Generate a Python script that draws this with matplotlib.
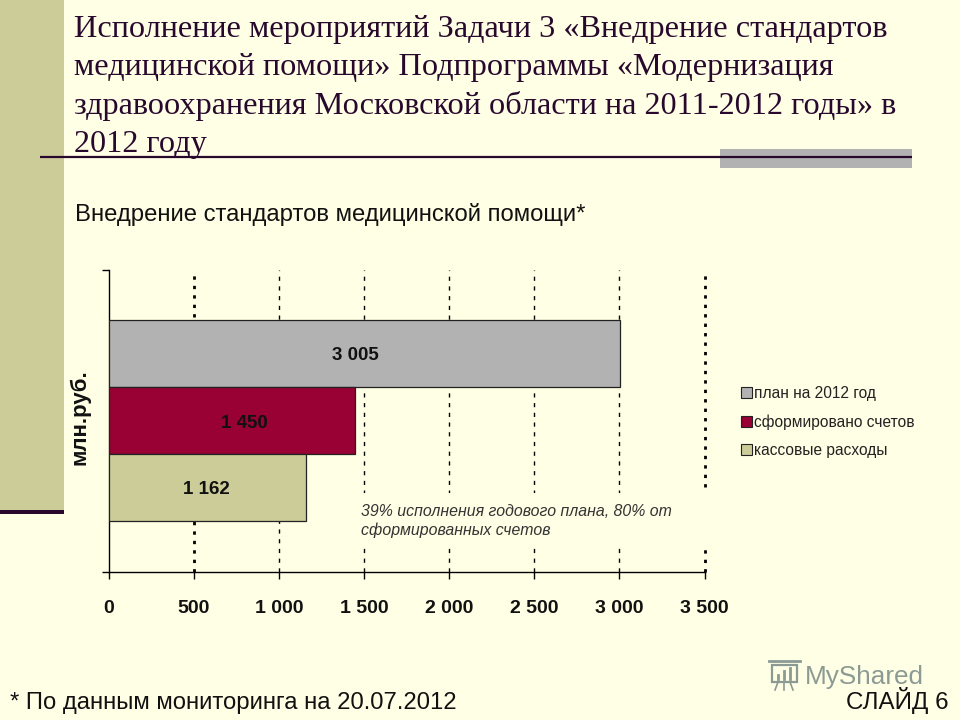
# slide with horizontal bar chart, plan vs invoices vs cash spending

import matplotlib
matplotlib.use('Agg')
import matplotlib.pyplot as plt
from matplotlib.patches import Rectangle

# chart data
categories = ['план на 2012 год', 'сформировано счетов', 'кассовые расходы']
values = [3005, 1450, 1162]
value_labels = ['3 005', '1 450', '1 162']
x_ticks = [0, 500, 1000, 1500, 2000, 2500, 3000, 3500]
x_tick_labels = ['0', '500', '1 000', '1 500', '2 000', '2 500', '3 000', '3 500']
heavy_grid = [500, 3500]

title_lines = [
    'Исполнение мероприятий Задачи 3 «Внедрение стандартов',
    'медицинской помощи» Подпрограммы «Модернизация',
    'здравоохранения Московской области на 2011-2012 годы» в',
    '2012 году',
]
subtitle = 'Внедрение стандартов медицинской помощи*'
note = '39% исполнения годового плана, 80% от\nсформированных счетов'
footer = '* По данным мониторинга на 20.07.2012'
slide_no = 'СЛАЙД 6'

# colors
bg_color = '#FFFFE5'
olive = '#CCCC99'
dark = '#29082E'
bar_colors = ['#B2B2B2', '#990033', '#CCCC99']

plt.rcParams['font.family'] = 'Liberation Sans'

fig = plt.figure(figsize=(9.6, 7.2), dpi=100, facecolor=bg_color)

# background layer in pixel coordinates
bg = fig.add_axes([0, 0, 1, 1], zorder=0)
bg.set_xlim(0, 960)
bg.set_ylim(720, 0)
bg.axis('off')

bg.add_patch(Rectangle((0, 0), 64, 510, color=olive, lw=0))
bg.add_patch(Rectangle((0, 510), 64, 4, color=dark, lw=0))
bg.add_patch(Rectangle((720, 149), 192, 19, color='#B2B2B2', lw=0))
bg.plot([40, 912], [157, 157], color=dark, lw=1.6, solid_capstyle='butt')

title_y = [37, 75, 114, 152]
for line, y in zip(title_lines, title_y):
    bg.text(74, y, line, family='Liberation Serif', fontsize=23.2, color=dark, va='baseline')

bg.text(75, 221, subtitle, fontsize=17.2, color='#111111', va='baseline')
bg.text(10, 709, footer, fontsize=17.2, color='#111111', va='baseline')
bg.text(949, 709, slide_no, fontsize=17.4, color='#111111', va='baseline', ha='right')
bg.text(79.5, 417, 'млн.руб.', fontsize=16, fontweight='bold', rotation=90,
        ha='center', va='center', color='#111111')

# watermark with small screen icon
wm = '#8C9A94'
bg.add_patch(Rectangle((772, 665), 25, 17, fill=False, ec=wm, lw=1.6))
bg.plot([769, 800], [661, 661], color=wm, lw=2)
bg.plot([778, 778], [679, 675], color=wm, lw=2)
bg.plot([784, 784], [679, 671], color=wm, lw=2)
bg.plot([790, 790], [679, 668], color=wm, lw=2)
bg.plot([778, 775], [682, 690], color=wm, lw=1.2)
bg.plot([784, 784], [682, 690], color=wm, lw=1.2)
bg.plot([790, 793], [682, 690], color=wm, lw=1.2)
bg.text(805, 684, 'MyShared', fontsize=18.8, color=wm, va='baseline')

# chart axes
ax = fig.add_axes([108.5 / 960, (720 - 572) / 720, 596 / 960, 302 / 720], zorder=1)
ax.patch.set_alpha(0)
positions = [2, 1, 0]
bars = ax.barh(positions, values, height=1.0, color=bar_colors, edgecolor='#222222',
               linewidth=0.9, zorder=3)

ax.set_xlim(0, 3500)
ax.set_ylim(-1.26, 3.24)

for t in x_ticks[1:]:
    if t in heavy_grid:
        ax.vlines(t, -1.26, 3.24, color='black', lw=2, linestyles=(0, (1.2, 2.2)), zorder=1,
                  clip_on=False)
    else:
        ax.vlines(t, -1.26, 3.24, color='black', lw=1, linestyles=(0, (3, 4)), zorder=1)

for spine in ['top', 'right']:
    ax.spines[spine].set_visible(False)
ax.spines['left'].set_linewidth(1)
ax.spines['bottom'].set_linewidth(1)

ax.set_xticks(x_ticks)
ax.set_xticklabels(x_tick_labels, fontsize=14, fontweight='bold', color='#111111')
ax.set_yticks([-1.26, 3.24])
ax.set_yticklabels([])
ax.tick_params(axis='x', length=5, width=1, pad=15)
ax.tick_params(axis='y', length=5, width=1)

# value labels, placed by hand like in the slide
label_x = [1450, 800, 575]
label_dy = [-0.04, -0.05, -0.03]
for pos, x, dy, lab in zip(positions, label_x, label_dy, value_labels):
    ax.text(x, pos + dy, lab, fontsize=13.5, fontweight='bold',
            ha='center', va='center', color='#111111', zorder=4)

# note covers the gridlines behind it
ax.add_patch(Rectangle((356, 493), 356, 54, transform=bg.transData, color=bg_color, lw=0,
                       zorder=2, clip_on=False))
ax.text(361, 521, note, transform=bg.transData, fontsize=11.4, style='italic',
        color='#333333', va='center', ha='left', linespacing=1.2, zorder=4)

# legend
handles = [Rectangle((0, 0), 1, 1, facecolor=c, edgecolor='#222222', lw=0.8) for c in bar_colors]
fig.legend(handles, categories, loc='upper left', bbox_to_anchor=(733 / 960, 1 - 378 / 720),
           frameon=False, fontsize=11.2, handlelength=0.7, handleheight=0.7,
           handletextpad=0.15, labelspacing=0.86, borderpad=0, labelcolor='#222222')

fig.savefig('out.png', dpi=100, facecolor=bg_color)
